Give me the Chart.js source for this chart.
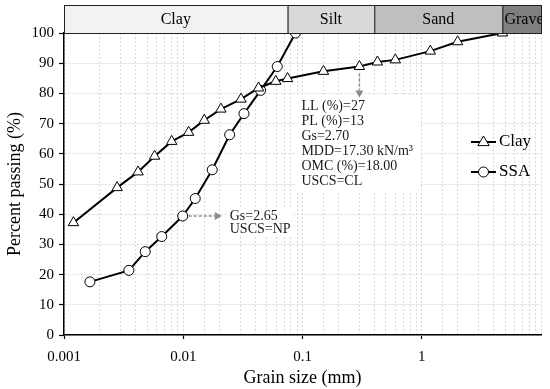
<!DOCTYPE html>
<html><head><meta charset="utf-8">
<script src="https://cdn.jsdelivr.net/npm/chart.js@4/dist/chart.umd.min.js"></script>
<style>html,body{margin:0;padding:0;background:#fff}#wrap{width:550px;height:389px;position:relative}</style>
</head><body><div id="wrap"><canvas id="c" width="550" height="389"></canvas></div>
<script>
// ---- data ----
const clayGrain   = [0.0012, 0.00279, 0.00418, 0.00575, 0.0080, 0.0111, 0.0150, 0.0207, 0.0305, 0.0428, 0.0597, 0.075, 0.15, 0.30, 0.425, 0.60, 1.18, 2.0, 4.75];
const clayPassing = [37.2, 48.8, 54.0, 59.2, 64.1, 67.1, 71.1, 74.8, 78.1, 81.8, 84.0, 84.9, 87.3, 88.9, 90.4, 91.1, 94.0, 97.1, 100];
const ssaGrain    = [0.00165, 0.0035, 0.0048, 0.0066, 0.0099, 0.0126, 0.0175, 0.0245, 0.0323, 0.0445, 0.0614, 0.0874];
const ssaPassing  = [17.6, 21.4, 27.6, 32.6, 39.4, 45.2, 54.7, 66.3, 73.3, 81.0, 88.9, 100];
const xTickLabels = ['0.001', '0.01', '0.1', '1'];
const yTicks      = [0, 10, 20, 30, 40, 50, 60, 70, 80, 90, 100];
const bandNames   = ['Clay', 'Silt', 'Sand', 'Gravel'];
const bandLimits  = [0.001, 0.075, 0.4, 4.75, 10];
const bandColors  = ['#f2f2f2', '#d9d9d9', '#bfbfbf', '#808080'];
const clayProps   = ['LL (%)=27', 'PL (%)=13', 'Gs=2.70', 'MDD=17.30 kN/m\u00B3', 'OMC (%)=18.00', 'USCS=CL'];
const ssaProps    = ['Gs=2.65', 'USCS=NP'];
const clayNoteAt  = 13;  // index of clay point the note arrow comes from
const ssaNoteAt   = 4;   // index of SSA point the note arrow comes from
const seriesNames = ['Clay', 'SSA'];

const SERIF = '"Liberation Serif", "Times New Roman", serif';
const isDecade = v => Math.abs(Math.log10(v) - Math.round(Math.log10(v))) < 1e-6;

function arrow(ctx, x1, y1, x2, y2) {
  ctx.save();
  ctx.strokeStyle = '#8c8c8c'; ctx.fillStyle = '#8c8c8c'; ctx.lineWidth = 1.5;
  ctx.setLineDash([3, 2]);
  const ang = Math.atan2(y2 - y1, x2 - x1);
  const hl = 7, hw = 4;
  const bx = x2 - Math.cos(ang) * hl, by = y2 - Math.sin(ang) * hl;
  ctx.beginPath(); ctx.moveTo(x1, y1); ctx.lineTo(bx, by); ctx.stroke();
  ctx.setLineDash([]);
  ctx.beginPath();
  ctx.moveTo(x2, y2);
  ctx.lineTo(bx - Math.sin(ang) * hw, by + Math.cos(ang) * hw);
  ctx.lineTo(bx + Math.sin(ang) * hw, by - Math.cos(ang) * hw);
  ctx.closePath(); ctx.fill();
  ctx.restore();
}

function marker(ctx, style, x, y) {
  ctx.save();
  ctx.fillStyle = '#fff'; ctx.strokeStyle = '#000'; ctx.lineWidth = 1;
  ctx.beginPath();
  if (style === 'triangle') {
    const r = 6;
    ctx.moveTo(x, y - r);
    ctx.lineTo(x + r * 0.95, y + r * 0.6);
    ctx.lineTo(x - r * 0.95, y + r * 0.6);
    ctx.closePath();
  } else {
    ctx.arc(x, y, 5, 0, Math.PI * 2);
  }
  ctx.fill(); ctx.stroke();
  ctx.restore();
}

const deco = {
  id: 'deco',
  beforeDatasetsDraw(chart) {
    const {ctx, scales: {x, y}} = chart;
    ctx.save();
    ctx.fillStyle = '#fff';
    const cx = x.getPixelForValue(clayGrain[clayNoteAt]);
    const cy = y.getPixelForValue(clayPassing[clayNoteAt]);
    ctx.fillRect(cx - 63, cy + 28, 124, 98);
    const sx = x.getPixelForValue(ssaGrain[ssaNoteAt]);
    const sy = y.getPixelForValue(ssaPassing[ssaNoteAt]);
    ctx.fillRect(sx + 44, sy - 9, 66, 30);
    ctx.restore();
  },
  afterDraw(chart) {
    const {ctx, chartArea: a, scales: {x, y}} = chart;
    ctx.save();
    const top = 5;
    for (let i = 0; i < bandNames.length; i++) {
      const l = x.getPixelForValue(bandLimits[i]);
      const r = x.getPixelForValue(bandLimits[i + 1]);
      ctx.fillStyle = bandColors[i];
      ctx.fillRect(l, top, r - l, a.top - top);
      ctx.strokeStyle = '#222'; ctx.lineWidth = 1;
      ctx.strokeRect(l + 0.5, top + 0.5, r - l, a.top - top);
      ctx.save();
      ctx.beginPath(); ctx.rect(l, top, r - l, a.top - top); ctx.clip();
      ctx.fillStyle = '#000';
      ctx.font = '16px ' + SERIF;
      ctx.textBaseline = 'middle';
      const w = ctx.measureText(bandNames[i]).width;
      if (w > r - l - 4) { ctx.textAlign = 'left'; ctx.fillText(bandNames[i], l + 2, (top + a.top) / 2 + 1); }
      else { ctx.textAlign = 'center'; ctx.fillText(bandNames[i], (l + r) / 2, (top + a.top) / 2 + 1); }
      ctx.restore();
    }
    ctx.restore();

    const cx = x.getPixelForValue(clayGrain[clayNoteAt]);
    const cy = y.getPixelForValue(clayPassing[clayNoteAt]);
    arrow(ctx, cx, cy + 7, cx, cy + 31);
    ctx.save();
    ctx.fillStyle = '#1a1a1a';
    ctx.font = '14px ' + SERIF;
    ctx.textBaseline = 'middle'; ctx.textAlign = 'left';
    clayProps.forEach((t, i) => ctx.fillText(t, cx - 58, cy + 40 + i * 15));
    ctx.restore();
    const sx = x.getPixelForValue(ssaGrain[ssaNoteAt]);
    const sy = y.getPixelForValue(ssaPassing[ssaNoteAt]);
    arrow(ctx, sx + 6, sy, sx + 39, sy);
    ctx.save();
    ctx.fillStyle = '#1a1a1a';
    ctx.font = '14px ' + SERIF;
    ctx.textBaseline = 'middle'; ctx.textAlign = 'left';
    ssaProps.forEach((t, i) => ctx.fillText(t, sx + 47, sy + i * 13));
    ctx.restore();

    const styles = ['triangle', 'circle'];
    seriesNames.forEach((name, i) => {
      const ly = 142 + i * 30;
      const lx0 = a.right - 70, lx1 = a.right - 45;
      ctx.save();
      ctx.strokeStyle = '#000'; ctx.lineWidth = 2;
      ctx.beginPath(); ctx.moveTo(lx0, ly); ctx.lineTo(lx1, ly); ctx.stroke();
      ctx.restore();
      marker(ctx, styles[i], (lx0 + lx1) / 2, ly);
      ctx.save();
      ctx.fillStyle = '#000'; ctx.font = '17px ' + SERIF;
      ctx.textBaseline = 'middle'; ctx.textAlign = 'left';
      ctx.fillText(name, lx1 + 3, ly);
      ctx.restore();
    });
  }
};

const mk = (xs, ys) => xs.map((v, i) => ({x: v, y: ys[i]}));

new Chart(document.getElementById('c'), {
  type: 'scatter',
  data: {
    datasets: [
      { label: seriesNames[0], data: mk(clayGrain, clayPassing), showLine: true, borderColor: '#000', borderWidth: 2,
        pointStyle: 'triangle', pointRadius: 6, pointBackgroundColor: '#fff', pointBorderColor: '#000', pointBorderWidth: 1, tension: 0 },
      { label: seriesNames[1], data: mk(ssaGrain, ssaPassing), showLine: true, borderColor: '#000', borderWidth: 2,
        pointStyle: 'circle', pointRadius: 5, pointBackgroundColor: '#fff', pointBorderColor: '#000', pointBorderWidth: 1, tension: 0 }
    ]
  },
  options: {
    responsive: false, animation: false, devicePixelRatio: 1,
    layout: { padding: { top: 33, right: 8, left: 0, bottom: 0 } },
    plugins: { legend: { display: false }, tooltip: { enabled: false } },
    scales: {
      x: {
        type: 'logarithmic', min: 0.001, max: 10,
        afterFit: s => { s.height = 54; },
        border: { display: true, color: '#000', width: 1.5, dash: [2, 2] },
        grid: {
          color: '#d8d8d8', lineWidth: 1, tickLength: 4,
          tickColor: c => (c.tick && isDecade(c.tick.value) && c.tick.value < 10) ? '#000' : 'rgba(0,0,0,0)',
          tickBorderDash: [0, 0], tickWidth: 1.2
        },
        ticks: {
          autoSkip: false, maxRotation: 0, padding: 9, color: '#000',
          font: { family: SERIF, size: 15 },
          callback: v => {
            const k = Math.round(Math.log10(v)) + 3;
            return isDecade(v) && k >= 0 && k < xTickLabels.length ? xTickLabels[k] : '';
          }
        },
        title: { display: true, text: 'Grain size (mm)', color: '#000', font: { family: SERIF, size: 18 }, padding: { top: 0, bottom: 0 } }
      },
      y: {
        min: 0, max: 100,
        afterFit: s => { s.width = 64; },
        afterBuildTicks: s => { s.ticks = yTicks.map(v => ({value: v})); },
        border: { display: true, color: '#000', width: 1.5, dash: [2, 2] },
        grid: { color: '#d8d8d8', lineWidth: 1, tickLength: 5, tickColor: '#000', tickBorderDash: [0, 0], tickWidth: 1.2 },
        ticks: { padding: 5, color: '#000', font: { family: SERIF, size: 15 } },
        title: { display: true, text: 'Percent passing (%)', color: '#000', font: { family: SERIF, size: 18 }, padding: { top: 4, bottom: 0 } }
      }
    }
  },
  plugins: [deco]
});
</script>
</body></html>
